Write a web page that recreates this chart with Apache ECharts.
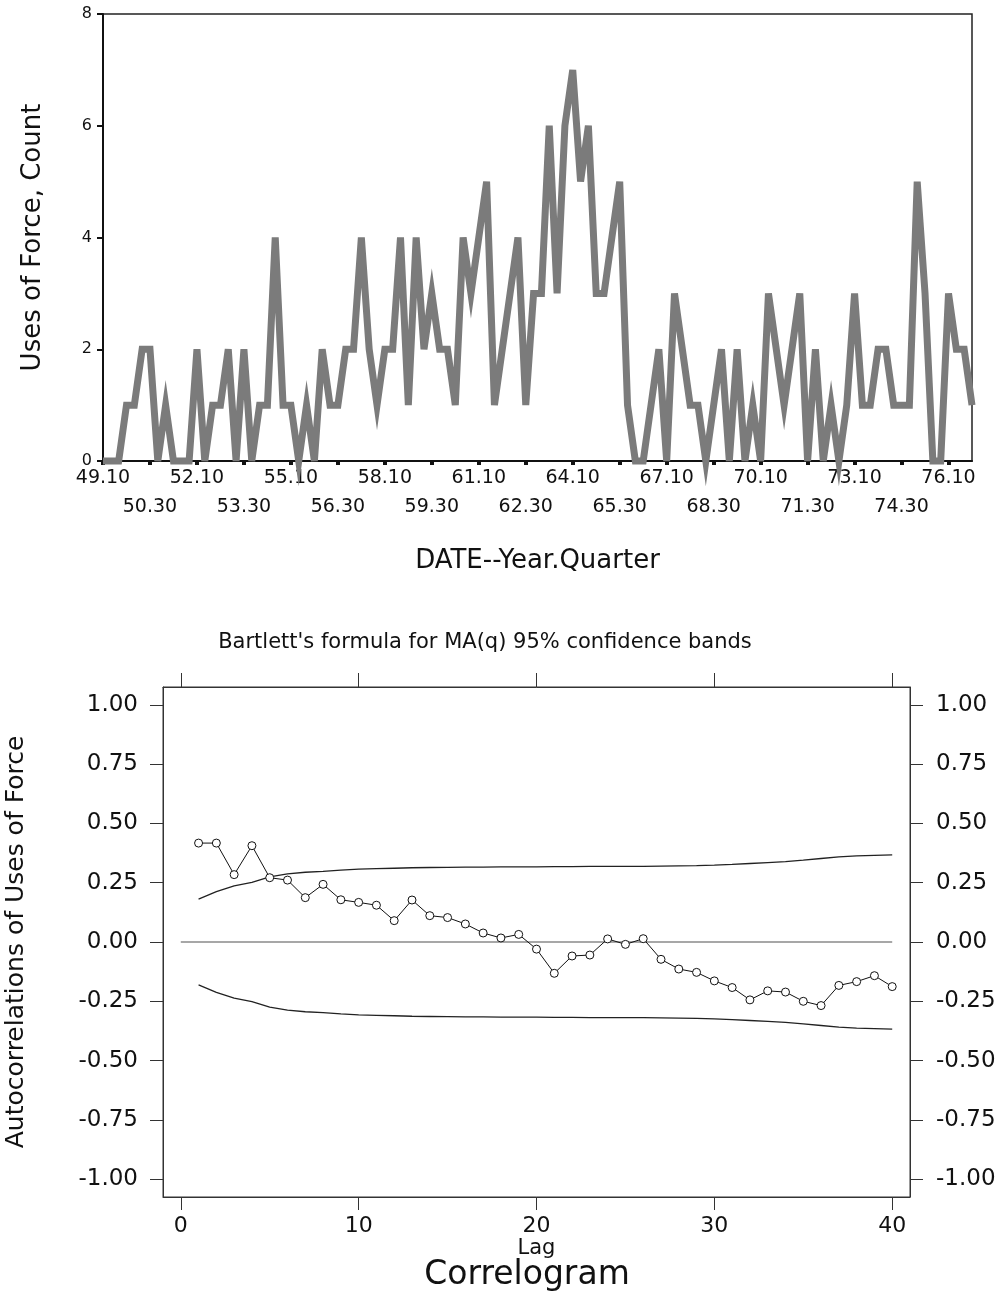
<!DOCTYPE html>
<html>
<head>
<meta charset="utf-8">
<script src="https://cdn.jsdelivr.net/npm/echarts@6.0.0/dist/echarts.min.js"></script>
<style>
  html, body { margin: 0; padding: 0; background: #fff; }
  #main { width: 998px; height: 1293px; }
</style>
</head>
<body>
<div id="main"></div>
<script>
// quarterly series, 1949 Q1 .. 1976 Q4
var years = [49, 50, 51, 52, 53, 54, 55, 56, 57, 58, 59, 60, 61, 62,
             63, 64, 65, 66, 67, 68, 69, 70, 71, 72, 73, 74, 75, 76];
var quarterCodes = ['10', '20', '30', '40'];
var dates = [];
years.forEach(function (y) {
  quarterCodes.forEach(function (q) { dates.push(y + '.' + q); });
});

var forceCounts = [
  0, 0, 0, 1, 1, 2, 2, 0, 1, 0, 0, 0,
  2, 0, 1, 1, 2, 0, 2, 0, 1, 1, 4, 1,
  1, 0, 1, 0, 2, 1, 1, 2, 2, 4, 2, 1,
  2, 2, 4, 1, 4, 2, 3, 2, 2, 1, 4, 3,
  4, 5, 1, 2, 3, 4, 1, 3, 3, 6, 3, 6,
  7, 5, 6, 3, 3, 4, 5, 1, 0, 0, 1, 2,
  0, 3, 2, 1, 1, 0, 1, 2, 0, 2, 0, 1,
  0, 3, 2, 1, 2, 3, 0, 2, 0, 1, 0, 1,
  3, 1, 1, 2, 2, 1, 1, 1, 5, 3, 0, 0,
  3, 2, 2, 1
];

// correlogram
var lags = [1, 2, 3, 4, 5, 6, 7, 8, 9, 10, 11, 12, 13, 14, 15, 16, 17, 18, 19, 20,
            21, 22, 23, 24, 25, 26, 27, 28, 29, 30, 31, 32, 33, 34, 35, 36, 37, 38, 39, 40];
var acfValues = [
  0.417, 0.417, 0.284, 0.406, 0.271, 0.261, 0.187, 0.243, 0.178, 0.167,
  0.155, 0.090, 0.177, 0.111, 0.103, 0.076, 0.038, 0.017, 0.032, -0.030,
  -0.132, -0.059, -0.055, 0.013, -0.010, 0.014, -0.073, -0.114, -0.128, -0.164,
  -0.192, -0.244, -0.206, -0.211, -0.250, -0.268, -0.183, -0.167, -0.142, -0.188
];
var bandUpper = [
  0.181, 0.212, 0.237, 0.251, 0.275, 0.287, 0.294, 0.298, 0.303, 0.307,
  0.309, 0.311, 0.313, 0.314, 0.315, 0.316, 0.316, 0.317, 0.317, 0.317,
  0.318, 0.318, 0.319, 0.319, 0.319, 0.319, 0.320, 0.321, 0.322, 0.324,
  0.327, 0.331, 0.335, 0.339, 0.345, 0.352, 0.359, 0.363, 0.365, 0.367
];
var bandLower = [
  -0.181, -0.212, -0.237, -0.251, -0.275, -0.287, -0.294, -0.298, -0.303, -0.307,
  -0.309, -0.311, -0.313, -0.314, -0.315, -0.316, -0.316, -0.317, -0.317, -0.317,
  -0.318, -0.318, -0.319, -0.319, -0.319, -0.319, -0.320, -0.321, -0.322, -0.324,
  -0.327, -0.331, -0.335, -0.339, -0.345, -0.352, -0.359, -0.363, -0.365, -0.367
];
var zeroLine = [[0, 0], [40, 0]];
var lagTicks = [0, 10, 20, 30, 40];
var acfTicks = [-1, -0.75, -0.5, -0.25, 0, 0.25, 0.5, 0.75, 1];

var FONT = 'DejaVu Sans';
var INK = '#111';

function pairs(xs, ys) {
  return xs.map(function (x, i) { return [x, ys[i]]; });
}

var myChart = echarts.init(document.getElementById('main'));

var option = {
  animation: false,
  backgroundColor: '#fff',
  textStyle: { fontFamily: FONT, color: INK },
  title: [
    {
      text: "Bartlett's formula for MA(q) 95% confidence bands",
      left: 480, top: 627, textAlign: 'center',
      textStyle: { fontFamily: FONT, fontSize: 21, fontWeight: 'normal', color: INK }
    },
    {
      text: 'Correlogram',
      left: 522, top: 1254, textAlign: 'center',
      textStyle: { fontFamily: FONT, fontSize: 33, fontWeight: 'normal', color: INK }
    }
  ],
  grid: [
    { left: 103, top: 14, width: 869, height: 447, show: true, borderColor: '#222', borderWidth: 1.5,
      outerBoundsMode: 'none', containLabel: false },
    { left: 163, top: 687, width: 747, height: 510, show: true, borderColor: '#333', borderWidth: 1,
      outerBoundsMode: 'none', containLabel: false }
  ],
  xAxis: [
    {
      // first row of dates (every 12th quarter) plus the ticks
      gridIndex: 0, type: 'category', data: dates, boundaryGap: false, position: 'bottom',
      axisLine: { lineStyle: { color: INK, width: 2 } },
      axisTick: {
        show: true, length: 4, interval: function (i) { return i % 6 === 0; },
        lineStyle: { color: INK, width: 4 }
      },
      axisLabel: {
        interval: function (i) { return i % 12 === 0; },
        showMinLabel: true, showMaxLabel: true, hideOverlap: false,
        fontFamily: FONT, fontSize: 19, margin: 8, color: INK
      },
      splitLine: { show: false },
      name: 'DATE--Year.Quarter', nameLocation: 'middle', nameGap: 87,
      nameTextStyle: { fontFamily: FONT, fontSize: 26, color: INK }
    },
    {
      // second, staggered row of dates
      gridIndex: 0, type: 'category', data: dates, boundaryGap: false, position: 'bottom',
      axisLine: { show: false },
      axisTick: { show: false },
      axisLabel: {
        interval: function (i) { return i % 12 === 6; },
        showMinLabel: true, showMaxLabel: true, hideOverlap: false,
        fontFamily: FONT, fontSize: 19, margin: 37, color: INK
      },
      splitLine: { show: false }
    },
    {
      gridIndex: 1, type: 'value', min: -1, max: 41, position: 'bottom',
      axisLine: { show: true, onZero: false, lineStyle: { color: '#333', width: 1 } },
      axisTick: { show: true, length: 13, customValues: lagTicks, lineStyle: { color: '#333', width: 1 } },
      axisLabel: { customValues: lagTicks, fontFamily: FONT, fontSize: 22, margin: 18, color: INK },
      splitLine: { show: false },
      name: 'Lag', nameLocation: 'middle', nameGap: 33,
      nameTextStyle: { fontFamily: FONT, fontSize: 21, color: INK }
    },
    {
      gridIndex: 1, type: 'value', min: -1, max: 41, position: 'top',
      axisLine: { show: true, onZero: false, lineStyle: { color: '#333', width: 1 } },
      axisTick: { show: true, length: 14, customValues: lagTicks, lineStyle: { color: '#333', width: 1 } },
      axisLabel: { show: false },
      splitLine: { show: false }
    }
  ],
  yAxis: [
    {
      gridIndex: 0, type: 'value', min: 0, max: 8, interval: 2,
      axisLine: { show: true, lineStyle: { color: INK, width: 2 } },
      axisTick: { show: true, length: 6, lineStyle: { color: INK, width: 2 } },
      axisLabel: { fontFamily: FONT, fontSize: 16, margin: 11, color: INK },
      splitLine: { show: false },
      name: 'Uses of Force, Count', nameLocation: 'middle', nameGap: 57,
      nameTextStyle: { fontFamily: FONT, fontSize: 26, color: INK }
    },
    {
      gridIndex: 1, type: 'value', min: -1.075, max: 1.075, position: 'left',
      axisLine: { show: true, onZero: false, lineStyle: { color: '#333', width: 1 } },
      axisTick: { show: true, length: 13, customValues: acfTicks, lineStyle: { color: '#333', width: 1 } },
      axisLabel: {
        customValues: acfTicks, formatter: function (v) { return v.toFixed(2); },
        fontFamily: FONT, fontSize: 23, margin: 25, color: INK
      },
      splitLine: { show: false },
      name: 'Autocorrelations of Uses of Force', nameLocation: 'middle', nameGap: 134,
      nameTextStyle: { fontFamily: FONT, fontSize: 25, color: INK }
    },
    {
      gridIndex: 1, type: 'value', min: -1.075, max: 1.075, position: 'right',
      axisLine: { show: true, onZero: false, lineStyle: { color: '#333', width: 1 } },
      axisTick: { show: true, length: 13, customValues: acfTicks, lineStyle: { color: '#333', width: 1 } },
      axisLabel: {
        customValues: acfTicks, formatter: function (v) { return v.toFixed(2); },
        fontFamily: FONT, fontSize: 23, margin: 26, color: INK
      },
      splitLine: { show: false }
    }
  ],
  series: [
    {
      name: 'Uses of Force', type: 'line', xAxisIndex: 0, yAxisIndex: 0,
      data: forceCounts, symbol: 'none', clip: false,
      lineStyle: { color: '#7b7b7b', width: 7, join: 'miter', miterLimit: 8 }
    },
    {
      name: 'zero', type: 'line', xAxisIndex: 2, yAxisIndex: 1,
      data: zeroLine, symbol: 'none', z: 1,
      lineStyle: { color: '#8a8a8a', width: 1.5 }
    },
    {
      name: 'upper band', type: 'line', xAxisIndex: 2, yAxisIndex: 1,
      data: pairs(lags, bandUpper), symbol: 'none',
      lineStyle: { color: '#222', width: 1.3 }
    },
    {
      name: 'lower band', type: 'line', xAxisIndex: 2, yAxisIndex: 1,
      data: pairs(lags, bandLower), symbol: 'none',
      lineStyle: { color: '#222', width: 1.3 }
    },
    {
      name: 'acf', type: 'line', xAxisIndex: 2, yAxisIndex: 1,
      data: pairs(lags, acfValues), symbol: 'circle', symbolSize: 8, showAllSymbol: true, z: 3,
      itemStyle: { color: '#fff', borderColor: '#111', borderWidth: 1 },
      lineStyle: { color: '#111', width: 1 }
    }
  ]
};

myChart.setOption(option);
</script>
</body>
</html>
